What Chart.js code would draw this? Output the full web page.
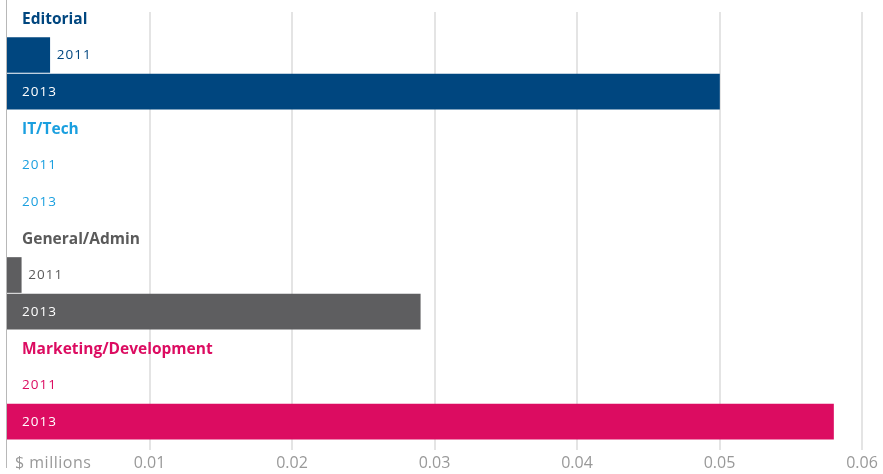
<!DOCTYPE html>
<html>
<head>
<meta charset="utf-8">
<script src="https://cdn.jsdelivr.net/npm/chart.js@4"></script>
<style>
    html, body { margin: 0; padding: 0; background: #fff; }
    #wrap { width: 883px; height: 474px; position: relative; }
</style>
</head>
<body>
<div id="wrap"><canvas id="chart-spend"></canvas></div>
<script>
// Spending by department, $ millions
const departments = ['Editorial', 'IT/Tech', 'General/Admin', 'Marketing/Development'];
const years       = ['2011', '2013'];
const spend2011   = [0.003, 0, 0.001, 0];
const spend2013   = [0.05, 0, 0.029, 0.058];
const barColors   = ['#00467f', '#1a9fdf', '#5e5e60', '#dc0c61'];
const textColors  = ['#00467f', '#1a9fdf', '#5a5a5a', '#dc0c61'];
const xTicks      = [0.01, 0.02, 0.03, 0.04, 0.05, 0.06];

// Each department gets three rows: heading, 2011 bar, 2013 bar
const rowLabels = [];
const rowValues = [];
const rowColors = [];
const rowDept   = [];
departments.forEach((dept, i) => {
    rowLabels.push(dept, years[0], years[1]);
    rowValues.push(null, spend2011[i], spend2013[i]);
    rowColors.push('rgba(0,0,0,0)',
        spend2011[i] > 0 ? barColors[i] : 'rgba(0,0,0,0)',
        spend2013[i] > 0 ? barColors[i] : 'rgba(0,0,0,0)');
    rowDept.push(i, i, i);
});

const FONT = '"Open Sans", "DejaVu Sans", sans-serif';

// Vertical grid lines, left axis line, headings and year labels
const decorations = {
    id: 'decorations',
    beforeDatasetsDraw(chart) {
        const { ctx, scales: { x } } = chart;
        const area = chart.chartArea;
        ctx.save();
        ctx.strokeStyle = '#e4e4e4';
        ctx.lineWidth = 2;
        xTicks.forEach(v => {
            const px = Math.round(x.getPixelForValue(v));
            ctx.beginPath();
            ctx.moveTo(px, area.top + 12);
            ctx.lineTo(px, area.bottom + 10);
            ctx.stroke();
        });
        const x0 = x.getPixelForValue(0) - 0.5;
        ctx.strokeStyle = '#b8b8b8';
        ctx.lineWidth = 1;
        ctx.beginPath();
        ctx.moveTo(x0, 0);
        ctx.lineTo(x0, area.bottom + 28);
        ctx.stroke();
        ctx.restore();
    },
    afterDatasetsDraw(chart) {
        const { ctx, scales: { x, y } } = chart;
        const x0 = x.getPixelForValue(0);
        ctx.save();
        ctx.textBaseline = 'middle';
        ctx.textAlign = 'left';
        rowLabels.forEach((label, i) => {
            const py = y.getPixelForValue(i);
            const dept = rowDept[i];
            const value = rowValues[i];
            if (value === null) {
                ctx.letterSpacing = '0px';
                ctx.font = `bold 15.5px ${FONT}`;
                ctx.fillStyle = textColors[dept];
                ctx.fillText(label, x0 + 15, py + 1);
                return;
            }
            const end = x.getPixelForValue(value);
            ctx.letterSpacing = '1px';
            ctx.font = `13.5px ${FONT}`;
            if (end - x0 > 60) {
                ctx.fillStyle = '#ffffff';
                ctx.fillText(label, x0 + 15, py);
            } else {
                ctx.fillStyle = textColors[dept];
                ctx.fillText(label, Math.max(end + 7, x0 + 15), py);
            }
        });
        // unit label sits where the zero tick would be
        ctx.letterSpacing = '0.5px';
        ctx.font = `16px ${FONT}`;
        ctx.fillStyle = '#999999';
        ctx.fillText('$ millions', x0 + 8, chart.chartArea.bottom + 23);
        ctx.restore();
    },
};

new Chart(document.getElementById('chart-spend').getContext('2d'), {
    type: 'bar',
    data: {
        labels: rowLabels,
        datasets: [{
            data: rowValues,
            backgroundColor: rowColors,
            barThickness: 35,
            borderWidth: 0,
        }],
    },
    options: {
        indexAxis: 'y',
        responsive: true,
        maintainAspectRatio: false,
        animation: false,
        layout: { padding: { left: 7, right: 21, top: 0, bottom: 0 } },
        plugins: {
            legend: { display: false },
            tooltip: { enabled: false },
        },
        scales: {
            x: {
                min: 0,
                max: 0.06,
                grid: { display: false, drawTicks: false },
                border: { display: false },
                afterFit(scale) {
                    scale.height = 34;
                    scale.paddingLeft = 0;
                    scale.paddingRight = 0;
                },
                ticks: {
                    stepSize: 0.01,
                    padding: 14,
                    maxRotation: 0,
                    color: '#999999',
                    font: { family: FONT, size: 16 },
                    callback: v => (v === 0 ? '' : v.toFixed(2)),
                },
            },
            y: {
                display: false,
            },
        },
    },
    plugins: [decorations],
});
</script>
</body>
</html>
